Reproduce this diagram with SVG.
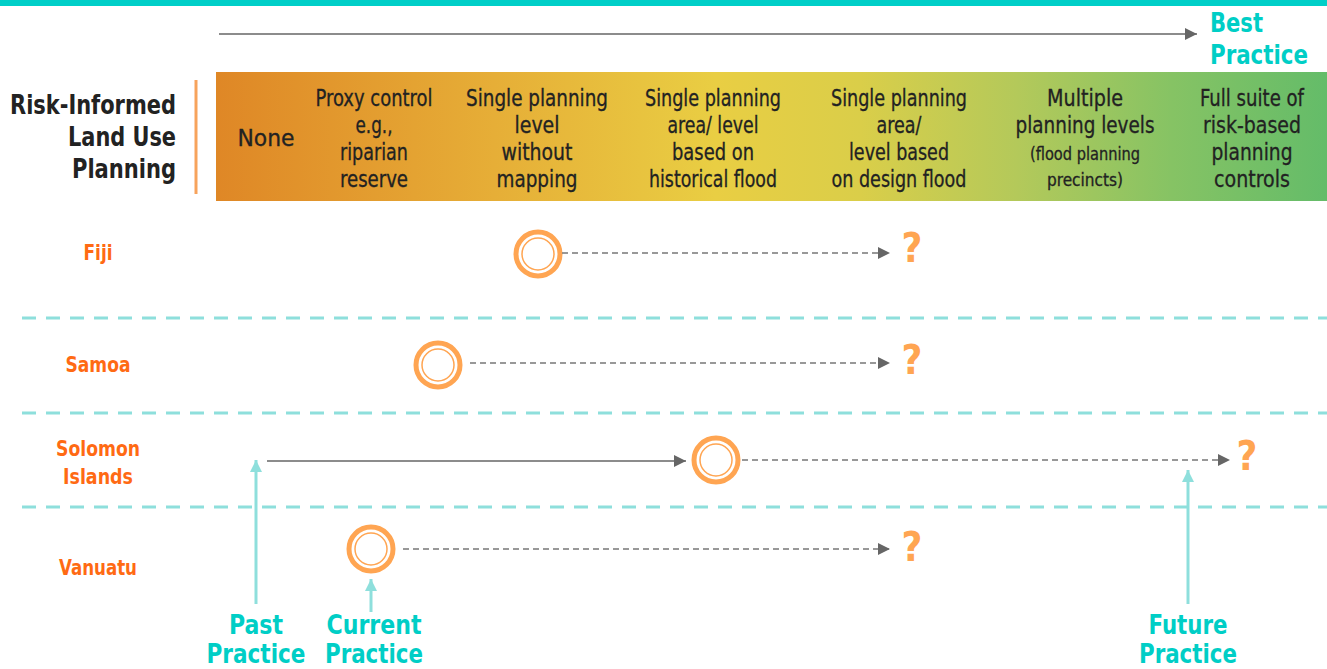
<svg xmlns="http://www.w3.org/2000/svg" width="1327" height="669" viewBox="0 0 1327 669">
<defs>
<linearGradient id="band" x1="0" y1="0" x2="1" y2="0">
<stop offset="0" stop-color="#DF8726"/>
<stop offset="0.25" stop-color="#E6AE37"/>
<stop offset="0.45" stop-color="#E9CE43"/>
<stop offset="0.58" stop-color="#DACE49"/>
<stop offset="0.72" stop-color="#B4C95A"/>
<stop offset="0.86" stop-color="#86C364"/>
<stop offset="1" stop-color="#64BC69"/>
</linearGradient>
<marker id="ag" viewBox="0 0 10 10" refX="10" refY="5" markerWidth="16" markerHeight="12" markerUnits="userSpaceOnUse" orient="auto"><path d="M0,0 L10,5 L0,10 Z" fill="#666"/></marker>
<marker id="at" viewBox="0 0 10 10" refX="10" refY="5" markerWidth="22" markerHeight="12" markerUnits="userSpaceOnUse" orient="auto"><path d="M0,0 L10,5 L0,10 Z" fill="#8EDFDC"/></marker>
<style>
.t{font-family:"Liberation Sans Narrow","DejaVu Sans Condensed","Liberation Sans",sans-serif;font-stretch:condensed}
.col{font-size:23px;fill:#222;stroke:#222;stroke-width:0.3;text-anchor:middle}
.sm{font-size:18px}
.title{font-size:27px;font-weight:bold;fill:#222;text-anchor:end}
.cty{font-size:21px;font-weight:bold;fill:#FF6A13;text-anchor:middle}
.teal{font-size:26px;font-weight:bold;fill:#00CEC6;text-anchor:middle}
.q{font-size:40px;font-weight:bold;fill:#FFA552;text-anchor:middle}
.sep{stroke:#8EDFDC;stroke-width:3;stroke-dasharray:14 10;fill:none}
.dash{stroke:#777;stroke-width:1.5;stroke-dasharray:6 4;fill:none}
.solid{stroke:#666;stroke-width:1.5;fill:none}
.tarr{stroke:#8EDFDC;stroke-width:3;fill:none}
.oc{fill:none;stroke:#FFA552;stroke-width:5}
.ic{fill:none;stroke:#FFA552;stroke-width:1.5}
</style>
</defs>
<rect x="0" y="0" width="1327" height="669" fill="#fff"/>
<rect x="0" y="0" width="1327" height="6" fill="#00CFC8"/>

<g id="header">
<text class="t teal" x="1210" y="32" style="text-anchor:start" textLength="53" lengthAdjust="spacingAndGlyphs">Best</text>
<text class="t teal" x="1210" y="64" style="text-anchor:start" textLength="98" lengthAdjust="spacingAndGlyphs">Practice</text>
<line x1="196" y1="80" x2="196" y2="194" stroke="#F7A35C" stroke-width="3"/>
<text class="t title" x="176" y="114" textLength="166" lengthAdjust="spacingAndGlyphs">Risk-Informed</text>
<text class="t title" x="176" y="146" textLength="108" lengthAdjust="spacingAndGlyphs">Land Use</text>
<text class="t title" x="176" y="178" textLength="104" lengthAdjust="spacingAndGlyphs">Planning</text>
<rect x="216" y="72" width="1111" height="129" fill="url(#band)"/>
</g>

<g id="col-none"><text class="t col" x="266" y="146" textLength="57" lengthAdjust="spacingAndGlyphs">None</text></g>
<g id="col-proxy">
<text class="t col" x="374" y="106" textLength="117" lengthAdjust="spacingAndGlyphs">Proxy control</text>
<text class="t col" x="374" y="133" textLength="37" lengthAdjust="spacingAndGlyphs">e.g.,</text>
<text class="t col" x="374" y="160" textLength="68" lengthAdjust="spacingAndGlyphs">riparian</text>
<text class="t col" x="374" y="187" textLength="68" lengthAdjust="spacingAndGlyphs">reserve</text>
</g>
<g id="col-single">
<text class="t col" x="537" y="106" textLength="142" lengthAdjust="spacingAndGlyphs">Single planning</text>
<text class="t col" x="537" y="133" textLength="45" lengthAdjust="spacingAndGlyphs">level</text>
<text class="t col" x="537" y="160" textLength="71" lengthAdjust="spacingAndGlyphs">without</text>
<text class="t col" x="537" y="187" textLength="81" lengthAdjust="spacingAndGlyphs">mapping</text>
</g>
<g id="col-historical">
<text class="t col" x="713" y="106" textLength="136" lengthAdjust="spacingAndGlyphs">Single planning</text>
<text class="t col" x="713" y="133" textLength="91" lengthAdjust="spacingAndGlyphs">area/ level</text>
<text class="t col" x="713" y="160" textLength="82" lengthAdjust="spacingAndGlyphs">based on</text>
<text class="t col" x="713" y="187" textLength="128" lengthAdjust="spacingAndGlyphs">historical flood</text>
</g>
<g id="col-design">
<text class="t col" x="899" y="106" textLength="136" lengthAdjust="spacingAndGlyphs">Single planning</text>
<text class="t col" x="899" y="133" textLength="45" lengthAdjust="spacingAndGlyphs">area/</text>
<text class="t col" x="899" y="160" textLength="100" lengthAdjust="spacingAndGlyphs">level based</text>
<text class="t col" x="899" y="187" textLength="135" lengthAdjust="spacingAndGlyphs">on design flood</text>
</g>
<g id="col-multiple">
<text class="t col" x="1085" y="106" textLength="76" lengthAdjust="spacingAndGlyphs">Multiple</text>
<text class="t col" x="1085" y="133" textLength="139" lengthAdjust="spacingAndGlyphs">planning levels</text>
<text class="t col sm" x="1085" y="160" textLength="110" lengthAdjust="spacingAndGlyphs">(flood planning</text>
<text class="t col sm" x="1085" y="186" textLength="76" lengthAdjust="spacingAndGlyphs">precincts)</text>
</g>
<g id="col-full">
<text class="t col" x="1252" y="106" textLength="104" lengthAdjust="spacingAndGlyphs">Full suite of</text>
<text class="t col" x="1252" y="133" textLength="98" lengthAdjust="spacingAndGlyphs">risk-based</text>
<text class="t col" x="1252" y="160" textLength="81" lengthAdjust="spacingAndGlyphs">planning</text>
<text class="t col" x="1252" y="187" textLength="76" lengthAdjust="spacingAndGlyphs">controls</text>
</g>

<g id="separators">
<line class="sep" x1="22" y1="318" x2="1327" y2="318"/>
<line class="sep" x1="22" y1="413" x2="1327" y2="413"/>
<line class="sep" x1="22" y1="507" x2="1327" y2="507"/>
</g>

<g id="fiji">
<text class="t cty" x="98" y="260" textLength="29" lengthAdjust="spacingAndGlyphs">Fiji</text>
<circle class="oc" cx="538" cy="254" r="22"/><circle class="ic" cx="538" cy="254" r="16"/>
<text class="t q" x="912" y="262">?</text>
</g>
<g id="samoa">
<text class="t cty" x="98" y="372" textLength="65" lengthAdjust="spacingAndGlyphs">Samoa</text>
<circle class="oc" cx="438" cy="365" r="22"/><circle class="ic" cx="438" cy="365" r="16"/>
<text class="t q" x="912" y="374">?</text>
</g>
<g id="solomon">
<text class="t cty" x="98" y="456" textLength="84" lengthAdjust="spacingAndGlyphs">Solomon</text>
<text class="t cty" x="98" y="484" textLength="70" lengthAdjust="spacingAndGlyphs">Islands</text>
<circle class="oc" cx="716" cy="460" r="22"/><circle class="ic" cx="716" cy="460" r="16"/>
<text class="t q" x="1247" y="470">?</text>
</g>
<g id="vanuatu">
<text class="t cty" x="98" y="575" textLength="78" lengthAdjust="spacingAndGlyphs">Vanuatu</text>
<circle class="oc" cx="371" cy="549" r="22"/><circle class="ic" cx="371" cy="549" r="16"/>
<text class="t q" x="912" y="561">?</text>
</g>

<g id="connectors">
<line class="solid" x1="219" y1="34" x2="1197" y2="34" marker-end="url(#ag)"/>
<line class="dash" x1="562" y1="253" x2="890" y2="253" marker-end="url(#ag)"/>
<line class="dash" x1="470" y1="363" x2="890" y2="363" marker-end="url(#ag)"/>
<line class="solid" x1="267" y1="461" x2="686" y2="461" marker-end="url(#ag)"/>
<line class="dash" x1="742" y1="460" x2="1230" y2="460" marker-end="url(#ag)"/>
<line class="dash" x1="403" y1="549" x2="890" y2="549" marker-end="url(#ag)"/>
<line class="tarr" x1="256" y1="604" x2="256" y2="460" marker-end="url(#at)"/>
<line class="tarr" x1="371" y1="612" x2="371" y2="579" marker-end="url(#at)"/>
<line class="tarr" x1="1188" y1="604" x2="1188" y2="470" marker-end="url(#at)"/>
</g>

<g id="practice-labels">
<text class="t teal" x="256" y="634" textLength="54" lengthAdjust="spacingAndGlyphs">Past</text>
<text class="t teal" x="256" y="663" textLength="99" lengthAdjust="spacingAndGlyphs">Practice</text>
<text class="t teal" x="374" y="634" textLength="95" lengthAdjust="spacingAndGlyphs">Current</text>
<text class="t teal" x="374" y="663" textLength="98" lengthAdjust="spacingAndGlyphs">Practice</text>
<text class="t teal" x="1188" y="634" textLength="79" lengthAdjust="spacingAndGlyphs">Future</text>
<text class="t teal" x="1188" y="663" textLength="98" lengthAdjust="spacingAndGlyphs">Practice</text>
</g>
</svg>
